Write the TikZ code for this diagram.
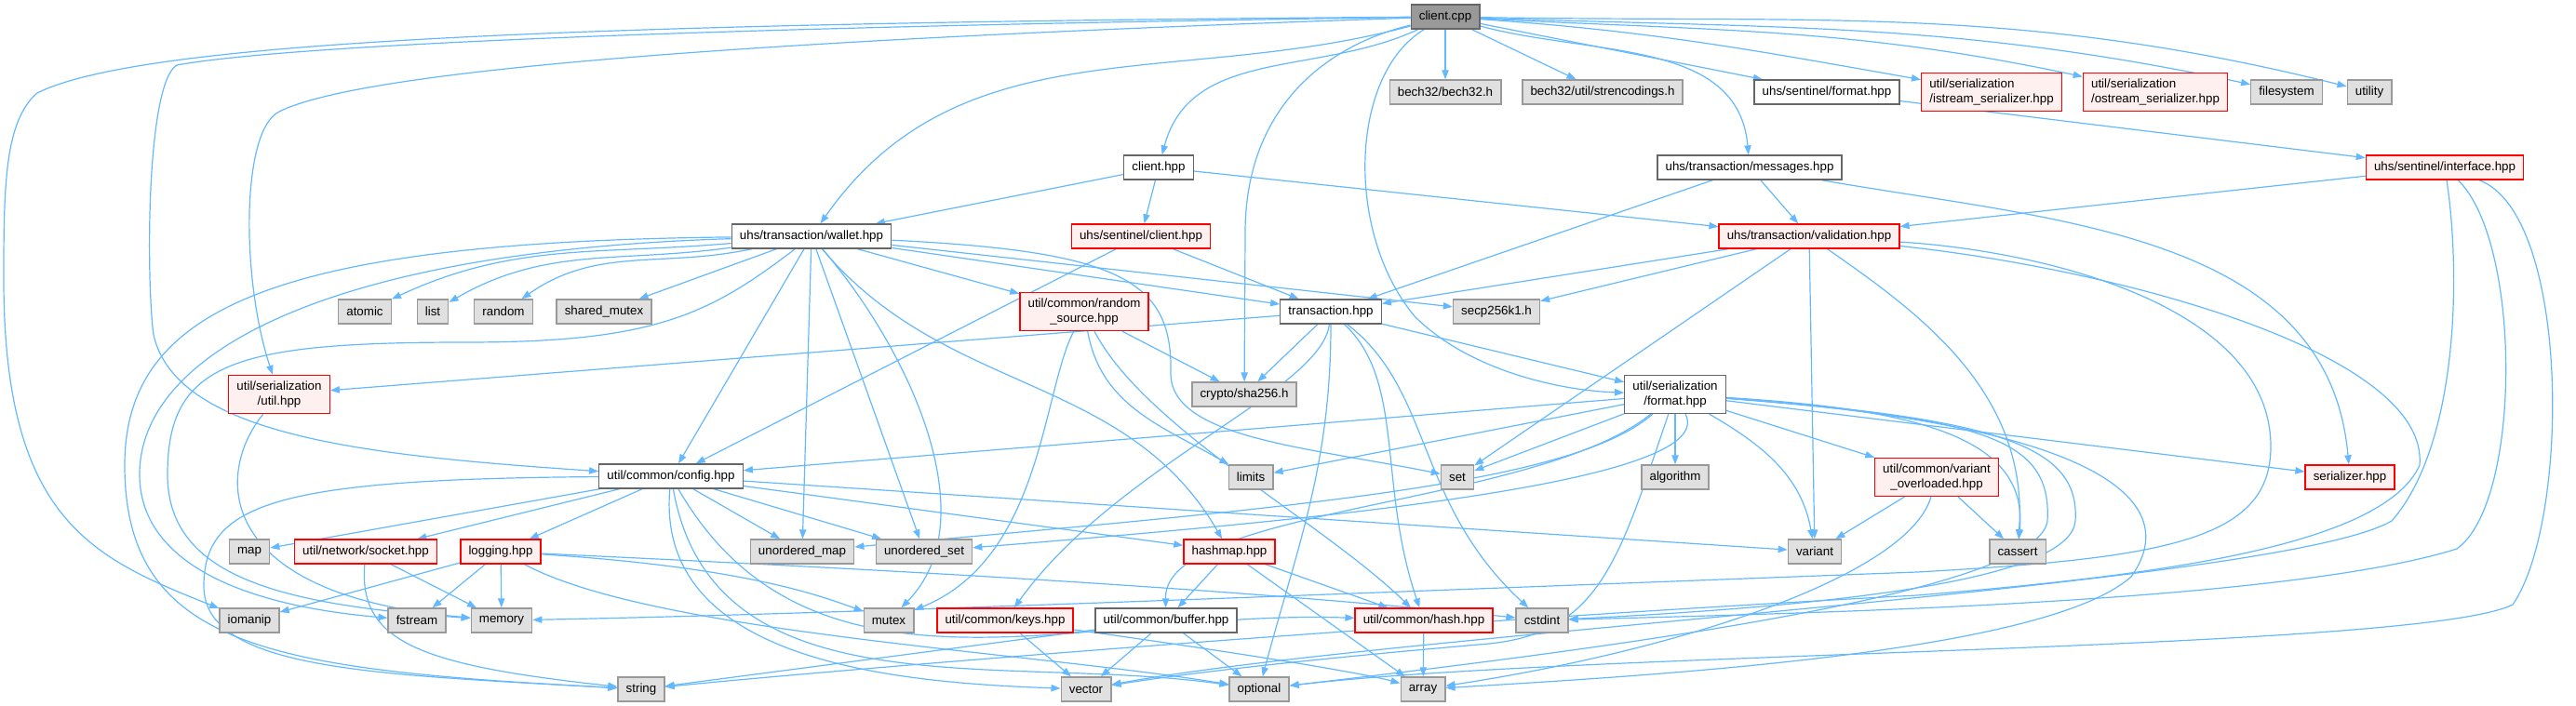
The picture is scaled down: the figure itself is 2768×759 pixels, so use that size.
\documentclass[tikz,border=0pt]{standalone}
\usepackage{fontspec}
\setmainfont{Liberation Sans}
\usetikzlibrary{arrows.meta}
\pgfdeclarelayer{background}
\pgfsetlayers{background,main}
\definecolor{edgeblue}{HTML}{63B8FF}
\definecolor{extfill}{HTML}{E0E0E0}
\definecolor{extdraw}{HTML}{999999}
\definecolor{docdraw}{HTML}{666666}
\definecolor{rootfill}{HTML}{999999}
\definecolor{truncfill}{HTML}{FFF0F0}
\definecolor{truncdraw}{HTML}{FF0000}
\tikzset{
  file/.style={draw, line width=1pt, minimum height=19.5pt, inner xsep=6.5pt, inner ysep=2pt, align=center, font=\fontsize{10}{11.5}\selectfont},
  root/.style={file, fill=rootfill, draw=docdraw},
  doc/.style={file, fill=white, draw=docdraw},
  ext/.style={file, fill=extfill, draw=extdraw},
  trunc/.style={file, fill=truncfill, draw=truncdraw},
  twoline/.style={minimum height=30.75pt},
  dep/.style={draw=edgeblue, line width=0.9pt, -{Triangle[length=7.5pt,width=5.5pt]}}
}
\begin{document}
\begin{tikzpicture}[x=0.75pt, y=-0.75pt]
  \useasboundingbox (0,0) rectangle (2768,759);

  \node[root] (cpp) at (1553,18) {client.cpp};
  \node[ext] (bech) at (1553,99) {bech32/bech32.h};
  \node[ext] (strenc) at (1722,99) {bech32/util/strencodings.h};
  \node[doc] (sfmt) at (1963,99) {uhs/sentinel/format.hpp};
  \node[trunc, twoline, align=left] (istr) at (2140,99) {util/serialization\\/istream\_serializer.hpp};
  \node[trunc, twoline, align=left] (ostr) at (2316,99) {util/serialization\\/ostream\_serializer.hpp};
  \node[ext] (fsys) at (2457,99) {filesystem};
  \node[ext] (utilh) at (2546,99) {utility};
  \node[doc] (chpp) at (1245,180) {client.hpp};
  \node[doc] (msgs) at (1880,180) {uhs/transaction/messages.hpp};
  \node[trunc] (iface) at (2627,180) {uhs/sentinel/interface.hpp};
  \node[doc] (wallet) at (872,254) {uhs/transaction/wallet.hpp};
  \node[trunc] (sclient) at (1226,254) {uhs/sentinel/client.hpp};
  \node[trunc] (valid) at (1944,254) {uhs/transaction/validation.hpp};
  \node[ext] (atomic) at (392,335) {atomic};
  \node[ext] (list) at (465,335) {list};
  \node[ext] (random) at (541,335) {random};
  \node[ext] (shmutex) at (649,335) {shared\_mutex};
  \node[trunc, twoline] (rsrc) at (1165,335) {util/common/random\\\_source.hpp};
  \node[doc] (txn) at (1430,335) {transaction.hpp};
  \node[ext] (secp) at (1608,335) {secp256k1.h};
  \node[trunc, twoline] (serutil) at (300,424) {util/serialization\\/util.hpp};
  \node[ext] (sha) at (1337,424) {crypto/sha256.h};
  \node[doc, twoline] (serfmt) at (1800,424) {util/serialization\\/format.hpp};
  \node[doc] (config) at (721,512) {util/common/config.hpp};
  \node[ext] (limits) at (1344,513) {limits};
  \node[ext] (set) at (1566,513) {set};
  \node[ext] (algo) at (1800,513) {algorithm};
  \node[trunc, twoline] (varov) at (2081,513) {util/common/variant\\\_overloaded.hpp};
  \node[trunc] (serial) at (2525,513) {serializer.hpp};
  \node[ext] (map) at (268,593) {map};
  \node[trunc] (socket) at (393,593) {util/network/socket.hpp};
  \node[trunc] (logging) at (538,593) {logging.hpp};
  \node[ext] (umap) at (862,593) {unordered\_map};
  \node[ext] (uset) at (993,593) {unordered\_set};
  \node[trunc] (hashmap) at (1321,593) {hashmap.hpp};
  \node[ext] (variant) at (1950,593) {variant};
  \node[ext] (cassert) at (2168,593) {cassert};
  \node[ext] (iomanip) at (268,667) {iomanip};
  \node[ext] (fstream) at (448,667) {fstream};
  \node[ext] (memory) at (539,667) {memory};
  \node[ext] (mutex) at (955,667) {mutex};
  \node[trunc] (keys) at (1080,667) {util/common/keys.hpp};
  \node[doc] (buffer) at (1253,667) {util/common/buffer.hpp};
  \node[trunc] (hash) at (1530,667) {util/common/hash.hpp};
  \node[ext] (cstdint) at (1657,667) {cstdint};
  \node[ext] (string) at (689,741) {string};
  \node[ext] (vector) at (1167,741) {vector};
  \node[ext] (optional) at (1353,741) {optional};
  \node[ext] (array) at (1529,741) {array};

  \begin{pgfonlayer}{background}
  \draw[dep] (cpp) -- (bech);
  \draw[dep] (cpp) -- (strenc);
  \draw[dep] (cpp) -- (sfmt);
  \draw[dep] (cpp) to[out=-4,in=170] (istr);
  \draw[dep] (cpp) to[out=-3,in=168] (ostr);
  \draw[dep] (cpp) to[out=-2,in=168] (fsys);
  \draw[dep] (cpp) to[out=-1,in=166] (utilh);
  \draw[dep] (cpp) to[out=205,in=75] (chpp);
  \draw[dep] (cpp) to[out=195,in=55] (wallet);
  \draw[dep] (cpp) to[out=-15,in=95] (msgs);
  \draw[dep] (cpp) .. controls (900,40) and (400,70) .. (300,120) .. controls (259,140) and (259,300) .. (serutil);
  \draw[dep] (cpp) .. controls (700,30) and (300,50) .. (190,70) .. controls (157,90) and (157,300) .. (165,360) .. controls (190,470) and (400,490) .. (config);
  \draw[dep] (cpp) .. controls (600,25) and (150,45) .. (40,100) .. controls (5,130) and (4,200) .. (4,300) .. controls (4,560) and (100,600) .. (iomanip);
  \draw[dep] (cpp) .. controls (1420,50) and (1338,120) .. (1338,250) -- (sha);
  \draw[dep] (cpp) .. controls (1450,80) and (1445,250) .. (1520,340) .. controls (1580,400) and (1680,420) .. (serfmt);

  \draw[dep] (chpp) -- (wallet);
  \draw[dep] (chpp) -- (sclient);
  \draw[dep] (chpp) -- (valid);
  \draw[dep] (sclient) -- (txn);
  \draw[dep] (sclient) -- (config);
  \draw[dep] (msgs) -- (txn);
  \draw[dep] (msgs) -- (valid);
  \draw[dep] (msgs) to[out=-10,in=95] (serial);
  \draw[dep] (sfmt) -- (iface);

  \draw[dep] (iface) -- (valid);
  \draw[dep] (iface) .. controls (2762,230) and (2762,560) .. (2700,650) .. controls (2600,700) and (1700,700) .. (optional);
  \draw[dep] (iface) .. controls (2710,260) and (2710,540) .. (2640,590) .. controls (2450,650) and (1900,660) .. (cstdint);
  \draw[dep] (iface) .. controls (2645,300) and (2640,480) .. (2570,560) .. controls (2450,630) and (1500,680) .. (vector);

  \draw[dep] (valid) -- (txn);
  \draw[dep] (valid) -- (secp);
  \draw[dep] (valid) -- (set);
  \draw[dep] (valid) -- (variant);
  \draw[dep] (valid) .. controls (2060,335) and (2180,420) .. (cassert);
  \draw[dep] (valid) .. controls (2200,270) and (2440,330) .. (2440,480) .. controls (2440,580) and (2330,600) .. (2060,615) .. controls (1400,640) and (900,660) .. (memory);
  \draw[dep] (valid) .. controls (2280,290) and (2610,380) .. (2600,500) .. controls (2560,590) and (2300,620) .. (2060,640) .. controls (1500,670) and (900,720) .. (string);

  \draw[dep] (wallet) to[out=185,in=25] (atomic);
  \draw[dep] (wallet) to[out=188,in=30] (list);
  \draw[dep] (wallet) to[out=192,in=35] (random);
  \draw[dep] (wallet) -- (shmutex);
  \draw[dep] (wallet) -- (config);
  \draw[dep] (wallet) -- (umap);
  \draw[dep] (wallet) -- (uset);
  \draw[dep] (wallet) .. controls (980,380) and (1060,560) .. (mutex);
  \draw[dep] (wallet) to[out=-50,in=120] (hashmap);
  \draw[dep] (wallet) -- (rsrc);
  \draw[dep] (wallet) -- (txn);
  \draw[dep] (wallet) -- (secp);
  \draw[dep] (wallet) .. controls (1200,270) and (1260,300) .. (1258,400) .. controls (1256,470) and (1400,480) .. (set);
  \draw[dep] (wallet) .. controls (300,260) and (134,330) .. (134,500) .. controls (134,700) and (300,720) .. (string);
  \draw[dep] (wallet) .. controls (350,270) and (150,380) .. (150,510) .. controls (150,600) and (250,650) .. (fstream);
  \draw[dep] (wallet) .. controls (760,340) and (700,368) .. (500,368) .. controls (250,368) and (180,390) .. (180,510) .. controls (180,620) and (300,650) .. (memory);

  \draw[dep] (rsrc) .. controls (1120,420) and (1120,600) .. (mutex);
  \draw[dep] (rsrc) to[out=-80,in=150] (limits);
  \draw[dep] (rsrc) -- (sha);
  \draw[dep] (rsrc) .. controls (1230,460) and (1420,560) .. (hash);

  \draw[dep] (txn) -- (serutil);
  \draw[dep] (txn) -- (sha);
  \draw[dep] (txn) -- (serfmt);
  \draw[dep] (txn) .. controls (1420,420) and (1200,500) .. (keys);
  \draw[dep] (txn) .. controls (1510,410) and (1480,520) .. (hash);
  \draw[dep] (txn) .. controls (1540,420) and (1520,540) .. (cstdint);
  \draw[dep] (txn) to[out=-90,in=75] (optional);

  \draw[dep] (serutil) .. controls (230,510) and (230,640) .. (memory);

  \draw[dep] (serfmt) -- (config);
  \draw[dep] (serfmt) -- (limits);
  \draw[dep] (serfmt) -- (set);
  \draw[dep] (serfmt) -- (algo);
  \draw[dep] (serfmt) to[out=-30,in=100] (variant);
  \draw[dep] (serfmt) -- (varov);
  \draw[dep] (serfmt) -- (serial);
  \draw[dep] (serfmt) .. controls (2060,440) and (2180,470) .. (cassert);
  \draw[dep] (serfmt) .. controls (1690,520) and (1400,545) .. (umap);
  \draw[dep] (serfmt) .. controls (1850,520) and (1400,560) .. (uset);
  \draw[dep] (serfmt) .. controls (1650,545) and (1250,545) .. (buffer);
  \draw[dep] (serfmt) .. controls (2150,450) and (2235,480) .. (2230,560) .. controls (2225,620) and (2000,650) .. (cstdint);
  \draw[dep] (serfmt) .. controls (2290,460) and (2340,550) .. (2290,620) .. controls (2200,700) and (1800,725) .. (array);
  \draw[dep] (serfmt) .. controls (2130,450) and (2205,470) .. (2200,560) .. controls (2190,640) and (1700,700) .. (optional);
  \draw[dep] (serfmt) .. controls (1740,600) and (1720,680) .. (1600,692) .. controls (1450,705) and (1300,720) .. (vector);

  \draw[dep] (config) -- (map);
  \draw[dep] (config) -- (socket);
  \draw[dep] (config) -- (logging);
  \draw[dep] (config) -- (umap);
  \draw[dep] (config) -- (uset);
  \draw[dep] (config) -- (hashmap);
  \draw[dep] (config) -- (variant);
  \draw[dep] (config) to[out=-60,in=178] (hash);
  \draw[dep] (config) to[out=-95,in=178] (vector);
  \draw[dep] (config) to[out=-80,in=172] (optional);
  \draw[dep] (config) .. controls (300,515) and (219,540) .. (219,630) .. controls (219,720) and (400,725) .. (string);

  \draw[dep] (varov) -- (variant);
  \draw[dep] (varov) -- (cassert);
  \draw[dep] (varov) .. controls (2050,620) and (1800,700) .. (array);

  \draw[dep] (socket) -- (memory);
  \draw[dep] (socket) .. controls (385,690) and (450,715) .. (string);
  \draw[dep] (logging) -- (iomanip);
  \draw[dep] (logging) -- (fstream);
  \draw[dep] (logging) -- (memory);
  \draw[dep] (logging) .. controls (800,610) and (880,640) .. (mutex);
  \draw[dep] (logging) .. controls (900,610) and (1300,630) .. (cstdint);
  \draw[dep] (logging) .. controls (700,680) and (1100,700) .. (optional);

  \draw[dep] (hashmap) -- (buffer);
  \draw[dep] (hashmap) -- (hash);
  \draw[dep] (hashmap) -- (array);
  \draw[dep] (keys) -- (vector);
  \draw[dep] (keys) .. controls (1250,690) and (1450,720) .. (array);
  \draw[dep] (buffer) -- (string);
  \draw[dep] (buffer) -- (vector);
  \draw[dep] (buffer) -- (optional);
  \draw[dep] (hash) -- (array);
  \end{pgfonlayer}
\end{tikzpicture}
\end{document}
